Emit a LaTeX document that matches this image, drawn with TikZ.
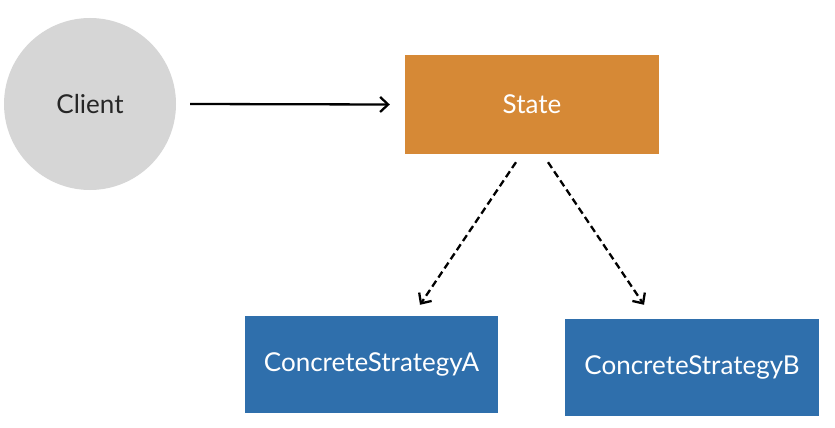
\documentclass[tikz,border=0pt]{standalone}
\usepackage{fontspec}
\setmainfont{Lato}
\usetikzlibrary{arrows.meta}

\definecolor{stateorange}{HTML}{D68936}
\definecolor{concreteblue}{HTML}{2F6FAC}
\definecolor{clientgray}{HTML}{D6D6D6}

\tikzset{
	box/.style={rectangle, minimum width=254pt, minimum height=99pt, inner sep=0pt, text=white, font=\fontsize{26}{30}\selectfont},
	link/.style={line width=2.3pt, -{Straight Barb[length=8pt, width=15pt, line width=2.3pt]}},
}

\begin{document}
\begin{tikzpicture}[x=1pt, y=-1pt]
	\useasboundingbox (0, 0) rectangle (835, 428);

	\node[circle, fill=clientgray, minimum size=172pt, inner sep=0pt, text=black!85, font=\fontsize{26}{30}\selectfont] (client) at (90, 104) {Client};

	\node[box, fill=stateorange] (state) at (532, 104.5) {State};
	\node[box, fill=concreteblue, minimum width=253pt, minimum height=97pt] (concreteA) at (371.5, 364.5) {ConcreteStrategyA};
	\node[box, fill=concreteblue, minimum height=97pt] (concreteB) at (692, 367.5) {ConcreteStrategyB};

	\draw[link] ([xshift=14pt]client.east) -- ([xshift=-15pt]state.west);
	\draw[link, dashed, dash pattern=on 7pt off 4pt] ([xshift=-16pt, yshift=-8pt]state.south) -- ([xshift=48.5pt, yshift=11pt]concreteA.north);
	\draw[link, dashed, dash pattern=on 7pt off 4pt] ([xshift=16pt, yshift=-8pt]state.south) -- ([xshift=-48pt, yshift=14pt]concreteB.north);

\end{tikzpicture}
\end{document}
